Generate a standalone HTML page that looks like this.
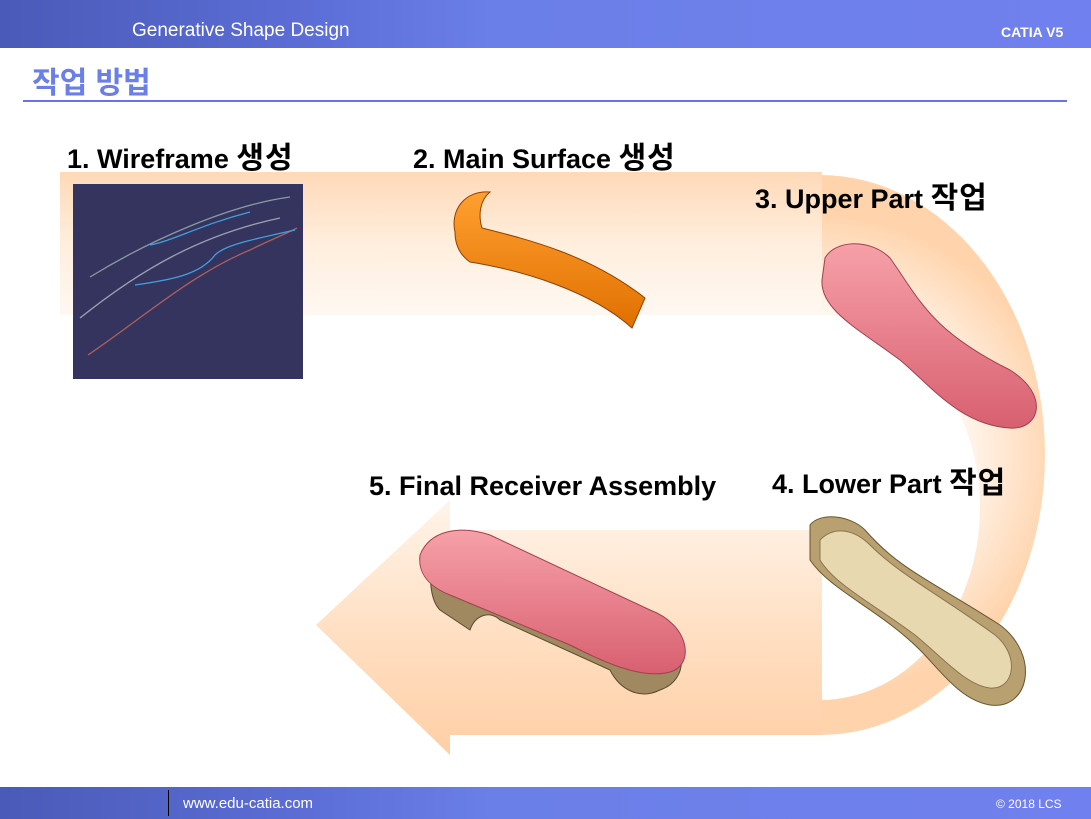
<!DOCTYPE html>
<html><head><meta charset="utf-8"><style>
body{margin:0;width:1091px;height:819px;overflow:hidden;background:#fff;font-family:"Liberation Sans","Noto Sans CJK KR",sans-serif;position:relative}
.hdr{position:absolute;left:0;top:0;width:1091px;height:48px;background:linear-gradient(90deg,#4a5ab8 0%,#5d6fd8 30%,#6b7fe8 45%,#7080ee 100%)}
.ftr{position:absolute;left:0;top:787px;width:1091px;height:32px;background:linear-gradient(90deg,#4a5ab8 0%,#5d6fd8 30%,#6b7fe8 45%,#7080ee 100%)}
.t{position:absolute;white-space:nowrap}
.lbl{position:absolute;font-weight:bold;font-size:27px;color:#000;white-space:nowrap;line-height:30px}
.k{font-size:30px;letter-spacing:1px}
</style></head><body>
<div class="hdr"></div>
<div class="t" style="left:132px;top:20px;font-size:19px;color:#fff">Generative Shape Design</div>
<div class="t" style="left:1001px;top:24px;font-size:14px;font-weight:bold;color:#fff">CATIA V5</div>
<div class="t" style="left:32px;top:66px;font-size:30px;line-height:36px;color:#6b7fe8;font-weight:bold">작업 방법</div>
<div style="position:absolute;left:23px;top:100px;width:1044px;height:2px;background:#6b6ff0"></div>
<div class="ftr"></div>
<div style="position:absolute;left:168px;top:790px;width:1px;height:26px;background:#000"></div>
<div class="t" style="left:183px;top:795px;font-size:15px;color:#fff">www.edu-catia.com</div>
<div class="t" style="left:996px;top:797px;font-size:12px;color:#fff">© 2018 LCS</div>

<svg width="1091" height="819" style="position:absolute;left:0;top:0">
<defs>
<linearGradient id="g1" x1="0" y1="0" x2="0" y2="1">
<stop offset="0" stop-color="#ffd9b8"/><stop offset="0.5" stop-color="#ffeedd"/><stop offset="1" stop-color="#fff8f2"/></linearGradient>
<linearGradient id="g2" x1="0" y1="0" x2="0" y2="1">
<stop offset="0" stop-color="#fff4ea"/><stop offset="0.5" stop-color="#ffe0c4"/><stop offset="1" stop-color="#ffcfa5"/></linearGradient>
<radialGradient id="g3" cx="820" cy="455" r="240" gradientUnits="userSpaceOnUse">
<stop offset="0.6" stop-color="#fff6ee"/><stop offset="1" stop-color="#ffd4ad"/></radialGradient>
<linearGradient id="og" x1="0" y1="0" x2="0" y2="1"><stop offset="0" stop-color="#ffa030"/><stop offset="1" stop-color="#e07000"/></linearGradient>
<linearGradient id="pk" x1="0" y1="0" x2="0" y2="1"><stop offset="0" stop-color="#f6a0a8"/><stop offset="1" stop-color="#d86070"/></linearGradient>
</defs>
<path d="M820 175 A225 280 0 0 1 820 735 L820 700 A160 192.5 0 0 0 820 315 Z" fill="url(#g3)"/>
<rect x="60" y="172" width="762" height="143" fill="url(#g1)"/>
<path d="M822 530 L450 530 L450 500 L316 625 L450 755 L450 735 L822 735 Z" fill="url(#g2)"/>

<rect x="73" y="184" width="230" height="195" fill="#34345e"/>
<g fill="none" stroke-width="1.3">
<path d="M90 277 C150 240 230 205 290 197" stroke="#8a9aa0"/>
<path d="M80 318 C140 270 200 235 280 218" stroke="#9aa0b0"/>
<path d="M88 355 C140 320 190 275 250 250 C270 240 290 232 297 228" stroke="#aa6060"/>
<path d="M150 245 C175 240 200 225 250 212" stroke="#40a0e0"/>
<path d="M135 285 C170 280 200 275 215 255 C225 245 250 240 295 230" stroke="#40a0e0"/>
</g>

<path d="M455 232 C450 210 465 190 490 192 C480 200 478 215 482 228 C530 240 590 255 645 298 L632 328 C590 290 520 270 470 262 C460 255 455 245 455 232 Z" fill="url(#og)" stroke="#904000"/>

<path d="M825 258 C835 240 870 238 890 258 C920 300 930 330 1010 370 C1050 395 1040 430 1010 428 C960 425 930 385 900 360 C860 330 820 310 822 280 Z" fill="url(#pk)" stroke="#a04050"/>

<path d="M810 525 C820 512 850 515 865 530 C900 570 930 580 1000 625 C1040 655 1030 710 990 705 C960 700 940 670 920 650 C880 610 830 590 810 560 Z" fill="#b8a070" stroke="#6a5530"/>
<path d="M820 540 C835 525 855 530 870 545 C900 575 940 595 995 635 C1020 655 1015 690 990 688 C965 685 940 655 915 635 C875 605 835 585 820 560 Z" fill="#e8d8b0" stroke="#8a7550"/>

<path d="M430 560 C430 540 450 530 475 535 L650 620 C690 640 690 680 660 690 L660 690 C640 700 620 690 610 670 L500 620 C490 610 475 615 470 630 L440 610 C430 600 430 580 430 560 Z" fill="#a08860" stroke="#5a4a30"/>
<path d="M420 555 C430 530 460 525 490 535 L650 610 C690 625 695 665 670 672 C640 680 600 660 570 645 L450 595 C425 585 418 570 420 555 Z" fill="url(#pk)" stroke="#a04050"/>
</svg>

<div class="lbl" style="left:67px;top:144px">1. Wireframe <span class="k">생성</span></div>
<div class="lbl" style="left:413px;top:144px">2. Main Surface <span class="k">생성</span></div>
<div class="lbl" style="left:755px;top:184px">3. Upper Part <span class="k">작업</span></div>
<div class="lbl" style="left:772px;top:469px">4. Lower Part <span class="k">작업</span></div>
<div class="lbl" style="left:369px;top:471px">5. Final Receiver Assembly</div>
</body></html>
